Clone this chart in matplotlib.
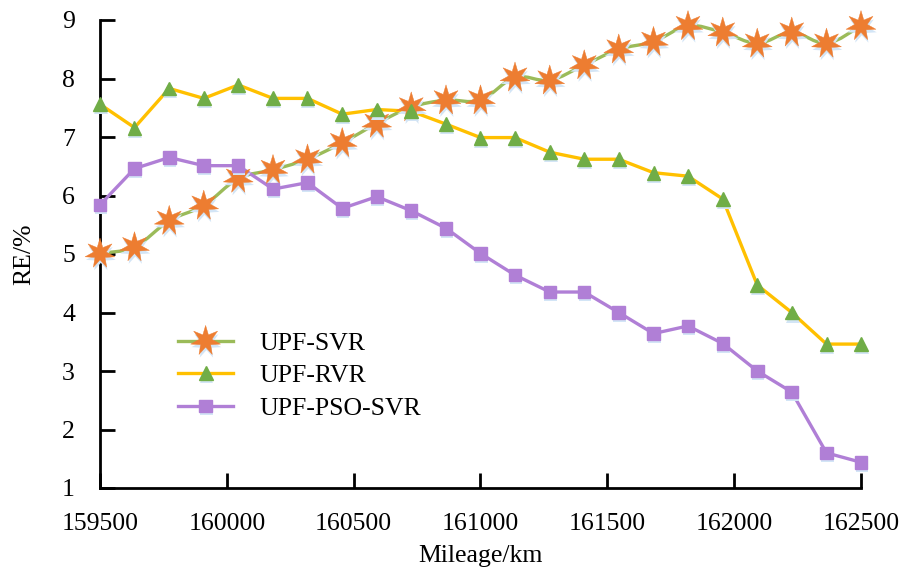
import matplotlib
matplotlib.use("Agg")
import matplotlib.pyplot as plt
import numpy as np
from matplotlib.path import Path
from matplotlib.patches import PathPatch
from matplotlib.lines import Line2D
from matplotlib.legend_handler import HandlerTuple
import matplotlib.patheffects as pe

plt.rcParams['font.family'] = ['Liberation Serif', 'DejaVu Serif']

mileage = [159500, 159636, 159773, 159909, 160045, 160182, 160318, 160455,
           160591, 160727, 160864, 161000, 161136, 161273, 161409, 161545,
           161682, 161818, 161955, 162091, 162227, 162364, 162500]

upf_svr = [5.01, 5.12, 5.57, 5.83, 6.29, 6.44, 6.62, 6.90, 7.23, 7.51, 7.63,
           7.63, 8.02, 7.97, 8.23, 8.50, 8.63, 8.90, 8.79, 8.60, 8.79, 8.60, 8.90]
upf_rvr = [7.56, 7.16, 7.83, 7.66, 7.89, 7.66, 7.66, 7.39, 7.47, 7.44, 7.22,
           6.99, 6.99, 6.74, 6.62, 6.62, 6.39, 6.33, 5.94, 4.47, 4.00, 3.46, 3.46]
upf_pso_svr = [5.84, 6.46, 6.65, 6.51, 6.51, 6.11, 6.22, 5.78, 5.98, 5.74, 5.44,
               5.01, 4.64, 4.35, 4.35, 4.00, 3.64, 3.77, 3.47, 3.00, 2.64, 1.60, 1.44]

labels = ['UPF-SVR', 'UPF-RVR', 'UPF-PSO-SVR']
xticks = [159500, 160000, 160500, 161000, 161500, 162000, 162500]
yticks = [1, 2, 3, 4, 5, 6, 7, 8, 9]

FS = 18.5
fig = plt.figure(figsize=(9.03, 5.73), dpi=100)
ax = fig.add_axes([100/903, 1-488/573, 761/903, 468/573])
ax.set_xlim(159500, 162500)
ax.set_ylim(1, 9)

shadow = [pe.SimplePatchShadow(offset=(0.6, -2.2), shadow_rgbFace='#d3e5f6', alpha=1.0), pe.Normal()]

# spiky 7-point star marker
npts = 7
ang = np.pi / 2 + np.arange(2 * npts) * np.pi / npts
rad = np.where(np.arange(2 * npts) % 2 == 0, 1.0, 0.42)
sv = np.column_stack([rad * np.cos(ang), rad * np.sin(ang)])
sv = np.vstack([sv, sv[:1]])
star = Path(sv, [Path.MOVETO] + [Path.LINETO] * (2 * npts - 1) + [Path.CLOSEPOLY])

# smooth line for UPF-SVR (Bezier through data points)
x = np.array(mileage, float)
y = np.array(upf_svr, float)
verts = [(x[0], y[0])]
codes = [Path.MOVETO]
n = len(x)
for i in range(n - 1):
    p0 = np.array([x[max(i-1, 0)], y[max(i-1, 0)]])
    p1 = np.array([x[i], y[i]])
    p2 = np.array([x[i+1], y[i+1]])
    p3 = np.array([x[min(i+2, n-1)], y[min(i+2, n-1)]])
    c1 = p1 + (p2 - p0) / 6.0
    c2 = p2 - (p3 - p1) / 6.0
    verts += [tuple(c1), tuple(c2), tuple(p2)]
    codes += [Path.CURVE4] * 3

svr_c, rvr_c, pso_c = '#9bbb59', '#ffc000', '#b07fd6'
ax.add_patch(PathPatch(Path(verts, codes), fill=False, edgecolor=svr_c, lw=2.4, zorder=3, clip_on=False))
ax.plot(mileage, upf_rvr, color=rvr_c, lw=2.4, zorder=3, clip_on=False)
ax.plot(mileage, upf_pso_svr, color=pso_c, lw=2.4, zorder=3, clip_on=False)

m1, = ax.plot(mileage, upf_svr, ls='none', marker=star, ms=22, mfc='#ed7d31', mec='#ed7d31',
              mew=0.3, zorder=4, clip_on=False, path_effects=shadow)
m2, = ax.plot(mileage, upf_rvr, ls='none', marker='^', ms=10, mfc='#70ad47', mec='#70ad47',
              zorder=4, clip_on=False, path_effects=shadow)
m3, = ax.plot(mileage, upf_pso_svr, ls='none', marker='s', ms=9, mfc='#b07fd6', mec='#b07fd6',
              zorder=4, clip_on=False, path_effects=shadow)

l1 = Line2D([], [], color=svr_c, lw=2.4)
l2 = Line2D([], [], color=rvr_c, lw=2.4)
l3 = Line2D([], [], color=pso_c, lw=2.4)
ax.legend([(l1, m1), (l2, m2), (l3, m3)], labels, handler_map={tuple: HandlerTuple(ndivide=1)},
          frameon=False, fontsize=FS, handlelength=2.15, handletextpad=1.0, labelspacing=0.38,
          loc='upper left', bbox_to_anchor=(0.1025, 0.334), borderaxespad=0, borderpad=0)

for s in ['top', 'right']:
    ax.spines[s].set_visible(False)
for s in ['left', 'bottom']:
    ax.spines[s].set_linewidth(2.0)
    ax.spines[s].set_zorder(2)

ax.set_xticks(xticks)
ax.set_yticks(yticks)
ax.set_xticklabels([str(v) for v in xticks])
ax.set_yticklabels([str(v) for v in yticks])
ax.tick_params(direction='in', length=11, width=2.0, labelsize=FS, color='black')
ax.tick_params(axis='x', pad=18)
ax.tick_params(axis='y', pad=18)
ax.set_xlabel('Mileage/km', fontsize=FS, labelpad=7)
ax.set_ylabel('RE/%', fontsize=FS, labelpad=19)

fig.savefig('out.png', dpi=100)
